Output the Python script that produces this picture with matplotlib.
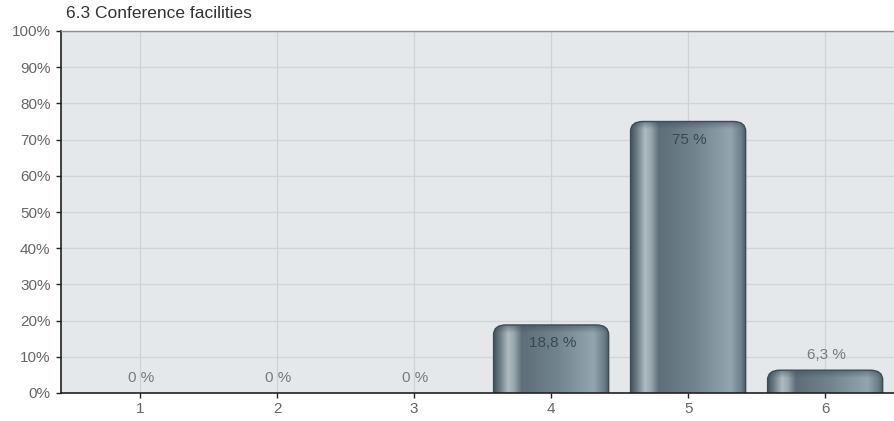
import numpy as np
import matplotlib
matplotlib.use("Agg")
import matplotlib.pyplot as plt
from matplotlib.patches import FancyBboxPatch
from matplotlib.colors import LinearSegmentedColormap

plt.rcParams['font.family'] = ['Liberation Sans', 'DejaVu Sans']

title = "6.3 Conference facilities"
categories = ["1", "2", "3", "4", "5", "6"]
values = [0, 0, 0, 18.8, 75, 6.3]
value_labels = ["0 %", "0 %", "0 %", "18,8 %", "75 %", "6,3 %"]
y_ticks = [0, 10, 20, 30, 40, 50, 60, 70, 80, 90, 100]

fig = plt.figure(figsize=(8.95, 4.21), dpi=100)
ax = fig.add_axes([61 / 895, 28 / 421, 834 / 895, 362 / 421])
ax.set_facecolor("#e4e8eb")

x = np.arange(1, len(categories) + 1)

# grid
for yt in y_ticks[1:]:
    ax.axhline(yt, color="#cfd5d9", lw=1.0, zorder=1)
for xt in x:
    ax.axvline(xt, color="#cdd3d7", lw=0.9, zorder=1)

# cylinder-like horizontal shading for bars
bar_cmap = LinearSegmentedColormap.from_list("barshade", [
    (0.00, "#46565f"),
    (0.05, "#6c7d86"),
    (0.12, "#aebbc1"),
    (0.17, "#9aa8af"),
    (0.24, "#5d6e78"),
    (0.55, "#72848e"),
    (0.86, "#93a6b0"),
    (0.95, "#6d808a"),
    (1.00, "#44545c"),
])
cap_cmap = LinearSegmentedColormap.from_list("cap", [(0, (0.25, 0.31, 0.35, 0.0)),
                                                      (1, (0.25, 0.31, 0.35, 0.55))])
grad = np.linspace(0, 1, 256).reshape(1, -1)
cap = np.linspace(0, 1, 64).reshape(-1, 1)

bar_w = 0.84
for xi, v in zip(x, values):
    if v <= 0:
        continue
    left = xi - bar_w / 2
    patch = FancyBboxPatch((left, -10), bar_w, v + 10,
                           boxstyle="round,pad=0,rounding_size=0.09",
                           mutation_aspect=30,
                           facecolor="none", edgecolor="#3e4d55", lw=1.0, zorder=4)
    ax.add_patch(patch)
    im = ax.imshow(grad, cmap=bar_cmap, aspect="auto",
                   extent=(left, left + bar_w, 0, v), zorder=3, interpolation="bilinear")
    im.set_clip_path(patch)
    # darker top cap
    cap_h = min(2.2, v)
    im2 = ax.imshow(cap, cmap=cap_cmap, aspect="auto", origin="lower",
                    extent=(left, left + bar_w, v - cap_h, v), zorder=3.5,
                    interpolation="bilinear")
    im2.set_clip_path(patch)

ax.set_xlim(0.423, 6.51)
ax.set_ylim(0, 100)

# value labels
for xi, v, lab in zip(x, values, value_labels):
    if v >= 15:
        ax.annotate(lab, (xi, v), xytext=(1, -13), textcoords="offset points",
                    ha="center", va="center", fontsize=11, color="#3a4850", zorder=6)
    else:
        ax.annotate(lab, (xi, v), xytext=(1, 11), textcoords="offset points",
                    ha="center", va="center", fontsize=11, color="#7a7a7a", zorder=6)

ax.set_xticks(x)
ax.set_xticklabels(categories)
ax.set_yticks(y_ticks)
ax.set_yticklabels([f"{t}%" for t in y_ticks])
ax.tick_params(axis="both", labelsize=11, labelcolor="#666666", color="#222222",
               length=3.5, width=1, direction="out")
ax.tick_params(axis="x", pad=3)
ax.tick_params(axis="y", pad=4)

ax.spines["left"].set_color("#222222")
ax.spines["left"].set_linewidth(1.2)
ax.spines["bottom"].set_color("#222222")
ax.spines["bottom"].set_linewidth(1.2)
ax.spines["top"].set_color("#8a8f92")
ax.spines["top"].set_linewidth(1.0)
ax.spines["right"].set_visible(False)
for s in ax.spines.values():
    s.set_zorder(7)

fig.text(66 / 895, 1 - 14 / 421, title, ha="left", va="center",
         fontsize=12.5, color="#333333")

fig.savefig("out.png", dpi=100)
